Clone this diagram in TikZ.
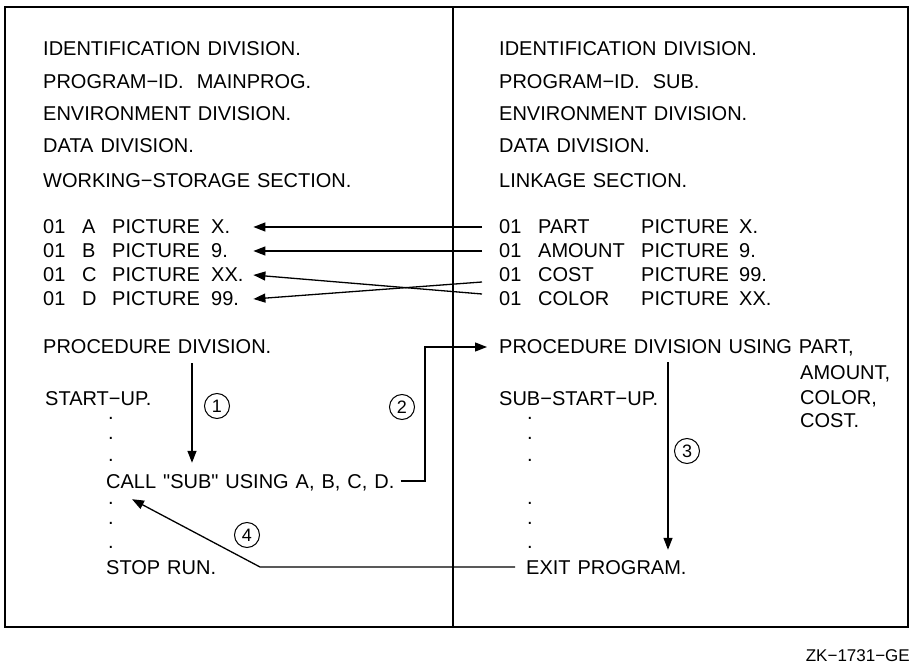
\documentclass[tikz,border=0pt]{standalone}
\usepackage{fontspec}
\setmainfont[WordSpace=1.25,Ligatures=TeXOff]{Liberation Sans}
\usetikzlibrary{arrows.meta}
\tikzset{
	txt/.style={anchor=west,inner sep=0pt,text height=14pt,text depth=0pt,font=\fontsize{20}{22}\selectfont},
	row/.style={txt,text width=210pt,align=left},
	pt/.style={anchor=base,inner sep=0pt,font=\fontsize{20}{22}\selectfont},
	arr/.style={line width=1.3pt,-{Triangle[length=12pt,width=9pt]}},
	num/.style={draw,circle,line width=1pt,inner sep=0pt,minimum size=25pt,font=\fontsize{18}{20}\selectfont},
}
\newcommand{\lrow}[2]{\makebox[39pt][l]{01}\makebox[30pt][l]{#1}\makebox[99pt][l]{PICTURE}#2}
\newcommand{\rrow}[2]{\makebox[39pt][l]{01}\makebox[103pt][l]{#1}\makebox[98pt][l]{PICTURE}#2}

\begin{document}
\begin{tikzpicture}[x=1pt,y=-1pt]
	\useasboundingbox (0,0) rectangle (916,668);
	\draw[line width=2pt] (5,7) rectangle (908,627);
	\draw[line width=2pt] (453,7) -- (453,627);

	\node[txt] (idL) at (43,49) {IDENTIFICATION DIVISION.};
	\node[txt] (pidL) at (43,82) {PROGRAM−ID.\hspace{13pt}MAINPROG.};
	\node[txt] (envL) at (43,114) {ENVIRONMENT DIVISION.};
	\node[txt] (dataL) at (43,146) {DATA DIVISION.};
	\node[txt] (wss) at (43,181) {WORKING−STORAGE SECTION.};
	\node[row] (a) at (43,227) {\lrow{A}{X.}};
	\node[row] (b) at (43,251) {\lrow{B}{9.}};
	\node[row] (c) at (43,275) {\lrow{C}{XX.}};
	\node[row] (d) at (43,299) {\lrow{D}{99.}};
	\node[txt] (procL) at (43,347) {PROCEDURE DIVISION.};
	\node[txt] (start) at (45,398) {START−UP.};
	\node[txt] (call) at (106,481) {CALL "SUB" USING A, B, C, D.};
	\node[txt] (stop) at (106,567) {STOP RUN.};

	\node[txt] (idR) at (499,49) {IDENTIFICATION DIVISION.};
	\node[txt] (pidR) at (499,82) {PROGRAM−ID.\hspace{13pt}SUB.};
	\node[txt] (envR) at (499,114) {ENVIRONMENT DIVISION.};
	\node[txt] (dataR) at (499,146) {DATA DIVISION.};
	\node[txt] (link) at (499,181) {LINKAGE SECTION.};
	\node[txt] (part) at (499,227) {\rrow{PART}{X.}};
	\node[txt] (amount) at (499,251) {\rrow{AMOUNT}{9.}};
	\node[txt] (cost) at (499,275) {\rrow{COST}{99.}};
	\node[txt] (color) at (499,299) {\rrow{COLOR}{XX.}};
	\node[txt] (procR) at (499,347) {PROCEDURE DIVISION USING PART,};
	\node[txt] (pAmount) at (800,372) {AMOUNT,};
	\node[txt] (pColor) at (800,397) {COLOR,};
	\node[txt] (pCost) at (800,420) {COST.};
	\node[txt] (subStart) at (499,398) {SUB−START−UP.};
	\node[txt] (exit) at (526,567) {EXIT PROGRAM.};

	\foreach \y [count=\i] in {419,439,461,504,524,548} {
		\node[pt] (ld\i) at (111,\y) {.};
		\node[pt] (rd\i) at (530,\y) {.};
	}

	\draw[arr] ([xshift=-17pt]part.west) -- (a.east);
	\draw[arr] ([xshift=-17pt]amount.west) -- (b.east);
	\draw[arr] ([xshift=-17pt,yshift=5pt]color.west) -- (c.east);
	\draw[arr] ([xshift=-17pt,yshift=-7pt]cost.west) -- (d.east);

	\draw[arr] ([xshift=149pt,yshift=-9pt]procL.south west) -- ([xshift=86pt,yshift=11pt]call.north west);
	\draw[arr] ([xshift=6pt]call.east) -| ([xshift=-74pt]procR.west) -- ([xshift=-12pt]procR.west);
	\draw[arr] ([xshift=169pt,yshift=-8pt]procR.south west) -- ([xshift=142pt,yshift=10pt]exit.north west);
	\draw[arr] ([xshift=-11pt]exit.west) -- ++(-255,0) -- ([xshift=26pt,yshift=-11pt]call.south west);

	\node[num] (n1) at (217,406) {1};
	\node[num] (n2) at (402,407) {2};
	\node[num] (n3) at (687,451) {3};
	\node[num] (n4) at (247,535) {4};

	\node[txt,anchor=east,text height=12pt,font=\fontsize{17}{20}\selectfont] (fig) at (910,655) {ZK−1731−GE};
\end{tikzpicture}
\end{document}
